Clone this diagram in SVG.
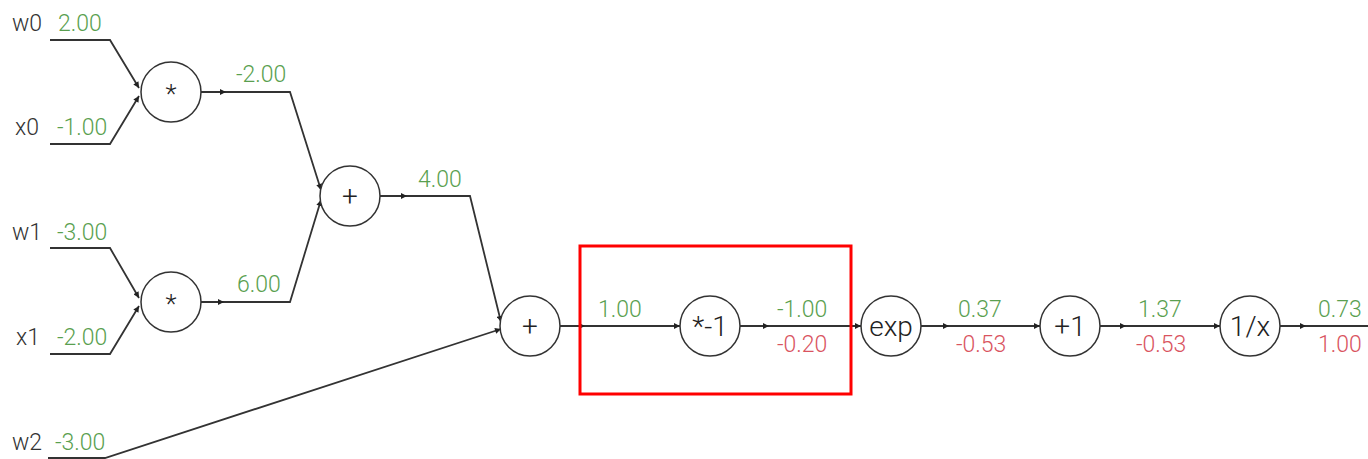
<svg xmlns="http://www.w3.org/2000/svg" width="1368" height="459" viewBox="0 0 1368 459">
<style>
.bg{fill:#ffffff}
.edge{fill:none;stroke:#333;stroke-width:1.8}
.node{fill:#fff;stroke:#333;stroke-width:1.5}
.nl{font-family:Roboto,"Liberation Sans",sans-serif;font-weight:300;font-size:28px;fill:#222;text-anchor:middle}
.vn{font-family:Roboto,"Liberation Sans",sans-serif;font-weight:300;font-size:23px;fill:#333}
.g{font-family:Roboto,"Liberation Sans",sans-serif;font-weight:300;font-size:23px;fill:#5a9f50}
.r{font-family:Roboto,"Liberation Sans",sans-serif;font-weight:300;font-size:23px;fill:#d9545f}
.box{fill:none;stroke:#ff0000;stroke-width:3}
</style>
<defs>
<marker id="arr" viewBox="0 0 10 10" refX="10" refY="5" markerWidth="8" markerHeight="6" markerUnits="userSpaceOnUse" orient="auto">
<path d="M0 0 L10 5 L0 10 Z" fill="#222"/>
</marker>
</defs>
<rect class="bg" x="0" y="0" width="1368" height="459"/>
<g id="connectors">
<path class="edge" d="M50 40 L110 40 L139 88" marker-end="url(#arr)"/>
<path class="edge" d="M50 144 L110 144 L139 96" marker-end="url(#arr)"/>
<path class="edge" d="M200 92 L290 92 L321 190" marker-end="url(#arr)"/>
<path class="edge" d="M215 92 L226 92" marker-end="url(#arr)"/>
<path class="edge" d="M50 248 L110 248 L139 298" marker-end="url(#arr)"/>
<path class="edge" d="M50 354 L110 354 L139 306" marker-end="url(#arr)"/>
<path class="edge" d="M200 302 L290 302 L321 200" marker-end="url(#arr)"/>
<path class="edge" d="M214 302 L224 302" marker-end="url(#arr)"/>
<path class="edge" d="M380 196 L470 196 L501 322" marker-end="url(#arr)"/>
<path class="edge" d="M396 196 L407 196" marker-end="url(#arr)"/>
<path class="edge" d="M48 458 L105 458 L501 329" marker-end="url(#arr)"/>
<path class="edge" d="M560 326 L680 326" marker-end="url(#arr)"/>
<path class="edge" d="M574 326 L585 326" marker-end="url(#arr)"/>
<path class="edge" d="M740 326 L861 326" marker-end="url(#arr)"/>
<path class="edge" d="M758 326 L769 326" marker-end="url(#arr)"/>
<path class="edge" d="M921 326 L1040 326" marker-end="url(#arr)"/>
<path class="edge" d="M938 326 L949 326" marker-end="url(#arr)"/>
<path class="edge" d="M1100 326 L1220 326" marker-end="url(#arr)"/>
<path class="edge" d="M1115 326 L1126 326" marker-end="url(#arr)"/>
<path class="edge" d="M1280 326 L1368 326"/>
<path class="edge" d="M1295 326 L1306 326" marker-end="url(#arr)"/>
</g>
<g id="in-w0"><text class="vn" x="12" y="31">w0</text><text class="g" x="58" y="31">2.00</text></g>
<g id="in-x0"><text class="vn" x="15" y="135">x0</text><text class="g" x="57" y="135">-1.00</text></g>
<g id="in-w1"><text class="vn" x="12" y="240">w1</text><text class="g" x="57" y="240">-3.00</text></g>
<g id="in-x1"><text class="vn" x="16" y="345">x1</text><text class="g" x="57" y="345">-2.00</text></g>
<g id="in-w2"><text class="vn" x="12" y="450">w2</text><text class="g" x="55" y="450">-3.00</text></g>
<g id="mul0"><circle class="node" cx="171" cy="92" r="30"/><text class="nl" x="171" y="103" style="font-size:26px">*</text></g>
<g id="mul1"><circle class="node" cx="171" cy="302" r="30"/><text class="nl" x="171" y="313" style="font-size:26px">*</text></g>
<g id="add0"><circle class="node" cx="350" cy="196" r="30"/><text class="nl" x="350" y="206">+</text></g>
<g id="add1"><circle class="node" cx="530" cy="326" r="30"/><text class="nl" x="530" y="336">+</text></g>
<g id="neg"><circle class="node" cx="710" cy="326" r="30"/><text class="nl" x="710" y="336">*-1</text></g>
<g id="exp"><circle class="node" cx="891" cy="326" r="30"/><text class="nl" x="891" y="336">exp</text></g>
<g id="plus1"><circle class="node" cx="1070" cy="326" r="30"/><text class="nl" x="1070" y="336">+1</text></g>
<g id="inv"><circle class="node" cx="1250" cy="326" r="30"/><text class="nl" x="1250" y="336">1/x</text></g>
<g id="values">
<text class="g" x="236" y="82">-2.00</text>
<text class="g" x="237" y="292">6.00</text>
<text class="g" x="418" y="187">4.00</text>
<text class="g" x="598" y="317">1.00</text>
<text class="g" x="777" y="317">-1.00</text>
<text class="r" x="777" y="352">-0.20</text>
<text class="g" x="958" y="317">0.37</text>
<text class="r" x="956" y="352">-0.53</text>
<text class="g" x="1138" y="317">1.37</text>
<text class="r" x="1136" y="352">-0.53</text>
<text class="g" x="1318" y="317">0.73</text>
<text class="r" x="1318" y="352">1.00</text>
</g>
<g id="highlight"><rect class="box" x="580" y="246" width="271" height="148"/></g>
</svg>
